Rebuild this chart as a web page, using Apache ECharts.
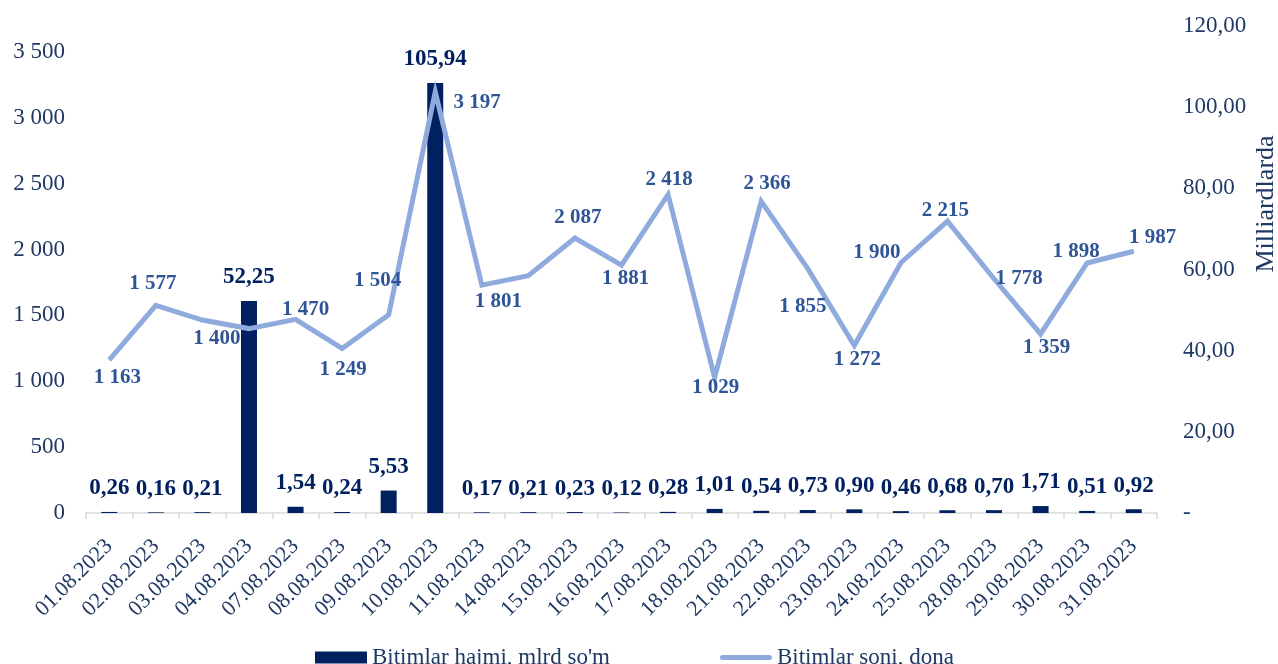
<!DOCTYPE html>
<html>
<head>
<meta charset="utf-8">
<script src="https://cdn.jsdelivr.net/npm/echarts/dist/echarts.min.js"></script>
<style>
  html, body { margin: 0; padding: 0; background: #fff; }
  #chart { width: 1278px; height: 664px; }
</style>
</head>
<body>
<div id="chart"></div>
<script>
  // kunlar
  const dates = ['01.08.2023', '02.08.2023', '03.08.2023', '04.08.2023', '07.08.2023', '08.08.2023',
    '09.08.2023', '10.08.2023', '11.08.2023', '14.08.2023', '15.08.2023', '16.08.2023', '17.08.2023',
    '18.08.2023', '21.08.2023', '22.08.2023', '23.08.2023', '24.08.2023', '25.08.2023', '28.08.2023',
    '29.08.2023', '30.08.2023', '31.08.2023'];

  // Bitimlar hajmi, mlrd so'm (o'ng o'q)
  const hajmiValues = [0.26, 0.16, 0.21, 52.25, 1.54, 0.24, 5.53, 105.94, 0.17, 0.21, 0.23, 0.12,
    0.28, 1.01, 0.54, 0.73, 0.90, 0.46, 0.68, 0.70, 1.71, 0.51, 0.92];

  // Bitimlar soni, dona (chap o'q)
  const soniValues = [1163, 1577, 1465, 1400, 1470, 1249, 1504, 3197, 1730, 1801, 2087, 1881,
    2418, 1029, 2366, 1855, 1272, 1900, 2215, 1778, 1359, 1898, 1987];

  const leftTicks = [0, 500, 1000, 1500, 2000, 2500, 3000, 3500];
  const rightTicks = [0, 20, 40, 60, 80, 100, 120];

  // chiziq yorliqlari joylashuvi (null = yorliq yo'q)
  const soniLabelOffsets = [[8, 18], [-3, -22], null, [-32, 10], [10, -10], [1, 21], [-11, -34],
    [42, 11], null, [-30, 26], [3, -21], [4, 13], [1, -15], [1, 10], [6, -18], [-5, 38], [3, 14],
    [-24, -10], [-2, -11], [25, 0], [6, 14], [-11, -11], [19, -14]];

  const navy = '#1F3864';
  const barColor = '#002060';
  const lineColor = '#8FAADC';
  const lineLabelColor = '#2F5597';
  const font = "'Liberation Serif', 'Times New Roman', serif";

  const fmtThousands = v => String(v).replace(/\B(?=(\d{3})+(?!\d))/g, ' ');
  const fmtDecimal = v => v.toFixed(2).replace('.', ',');

  const lineData = soniValues.map((v, i) => {
    const off = soniLabelOffsets[i];
    return off ? { value: v, label: { offset: off } } : { value: v, label: { show: false } };
  });

  var myChart = echarts.init(document.getElementById('chart'));
  myChart.setOption({
    animation: false,
    textStyle: { fontFamily: font },
    grid: { left: 86, right: 121, top: 26, bottom: 151, containLabel: false },
    legend: {
      left: 310,
      top: 641,
      itemWidth: 52,
      itemHeight: 12,
      itemGap: 110,
      textStyle: { fontFamily: font, fontSize: 23, color: navy },
      data: [
        { name: "Bitimlar hajmi, mlrd so'm", icon: 'rect' },
        {
          name: 'Bitimlar soni, dona',
          icon: 'path://M2.5,0 H49.5 A2.5,2.5 0 0 1 49.5,5 H2.5 A2.5,2.5 0 0 1 2.5,0 Z',
          itemStyle: { color: lineColor }
        }
      ]
    },
    xAxis: {
      type: 'category',
      data: dates,
      boundaryGap: true,
      axisLine: { lineStyle: { color: '#D9D9D9', width: 1.5 } },
      axisTick: { show: true, length: 6, lineStyle: { color: '#D9D9D9', width: 1.5 } },
      axisLabel: { rotate: 45, margin: 30, interval: 0, fontFamily: font, fontSize: 22, color: navy }
    },
    yAxis: [
      {
        type: 'value',
        min: leftTicks[0],
        max: 3697,
        interval: 500,
        splitLine: { show: false },
        axisLine: { show: false },
        axisTick: { show: false },
        axisLabel: {
          margin: 21,
          fontFamily: font,
          fontSize: 23,
          color: navy,
          formatter: v => leftTicks.indexOf(v) >= 0 ? fmtThousands(v) : ''
        }
      },
      {
        type: 'value',
        min: rightTicks[0],
        max: rightTicks[rightTicks.length - 1],
        interval: 20,
        splitLine: { show: false },
        axisLine: { show: false },
        axisTick: { show: false },
        axisLabel: {
          margin: 26,
          fontFamily: font,
          fontSize: 23,
          color: navy,
          formatter: v => v === 0 ? '-' : fmtDecimal(v)
        }
      }
    ],
    graphic: [
      {
        type: 'text',
        x: 1266,
        y: 204,
        rotation: Math.PI / 2,
        style: {
          text: 'Milliardlarda',
          fontFamily: font,
          fontSize: 26,
          fill: navy,
          align: 'center',
          verticalAlign: 'middle'
        }
      }
    ],
    series: [
      {
        name: "Bitimlar hajmi, mlrd so'm",
        type: 'bar',
        yAxisIndex: 1,
        barWidth: 16,
        itemStyle: { color: barColor },
        label: {
          show: true,
          position: 'top',
          distance: 12,
          fontFamily: font,
          fontSize: 23,
          fontWeight: 'bold',
          color: barColor,
          formatter: p => fmtDecimal(p.value)
        },
        data: hajmiValues
      },
      {
        name: 'Bitimlar soni, dona',
        type: 'line',
        yAxisIndex: 0,
        z: 3,
        symbol: 'circle',
        symbolSize: 1,
        showSymbol: true,
        itemStyle: { color: lineColor },
        lineStyle: { color: lineColor, width: 5, join: 'miter' },
        label: {
          show: true,
          position: 'inside',
          fontFamily: font,
          fontSize: 21,
          fontWeight: 'bold',
          color: lineLabelColor,
          formatter: p => fmtThousands(p.value)
        },
        data: lineData
      }
    ]
  });
</script>
</body>
</html>
